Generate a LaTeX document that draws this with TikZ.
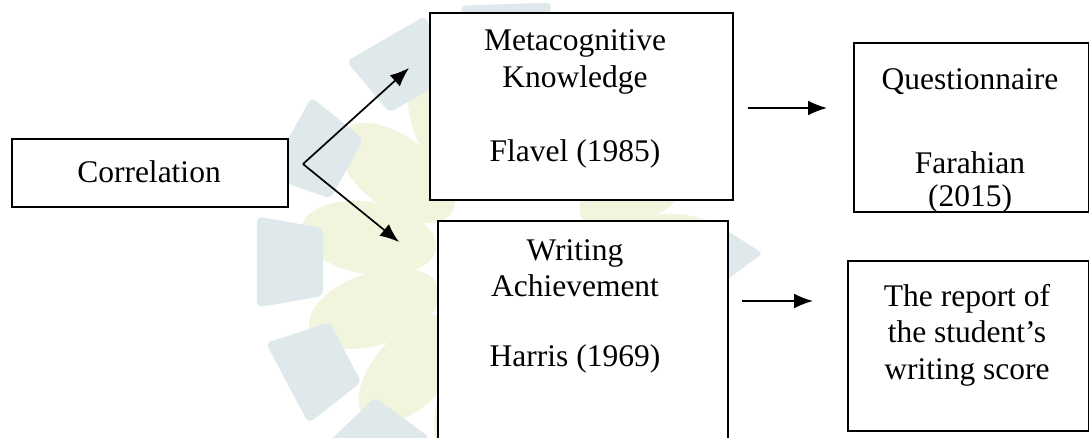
\documentclass[tikz,border=0pt]{standalone}
\usepackage{fontspec}
\setmainfont{Liberation Serif}
\usetikzlibrary{arrows.meta,calc}
\definecolor{wmblue}{RGB}{223,232,235}
\definecolor{wmyel}{RGB}{241,245,222}
\begin{document}
\begin{tikzpicture}[x=1pt,y=-1pt,
  box/.style={draw=black, line width=2.2pt, fill=white, inner sep=0pt, anchor=north west},
  txt/.style={align=center, inner sep=0pt, font=\fontsize{31.5}{36.5}\selectfont},
  arr/.style={line width=1.7pt, -{Latex[length=19pt,width=15pt]}}]
\useasboundingbox (0,0) rectangle (1089,437);
\clip (0,0) rectangle (1089,437);
\fill[white] (0,0) rectangle (1089,437);
% watermark
\begin{scope}[shift={(515,262)}, y=1pt]
  \foreach \a in {4.6,32.3,60,87.7,115.4,143,170.7,198.4,226.1,253.8,281.5,309.2,336.9}
    \fill[wmyel, rotate=\a] (148,0) ellipse [x radius=68, y radius=36];
  \foreach \a in {92,120,151,180,208,234}
    \fill[wmblue, rounded corners=5pt] (\a-10:195) -- (\a-10:262) -- (\a+10:262) -- (\a+10:195) -- cycle;
  \fill[wmblue, rounded corners=4pt] (12:200) -- (2:248) -- (-8:200) -- cycle;
\end{scope}
% boxes
\node[box, minimum width=276, minimum height=68] (corr) at (11,138) {};
\node[box, minimum width=303, minimum height=187] (meta) at (429,12) {};
\node[box, minimum width=290, minimum height=240] (writ) at (437,220) {};
\node[box, minimum width=235, minimum height=169] (quest) at (853,42) {};
\node[box, minimum width=241, minimum height=170] (rep) at (847,260) {};
% texts
\node[txt] (corrt) at (149,172) {Correlation};
\node[txt] (metat) at (575,99) {Metacognitive\\Knowledge\\[38pt]Flavel (1985)};
\node[txt] (writt) at (575,306) {Writing\\Achievement\\[33pt]Harris (1969)};
\node[txt] (questt) at (970,141) {Questionnaire\\[47pt]Farahian\\[-3pt](2015)};
\node[txt] (rept) at (967,335) {The report of\\the student’s\\writing score};
% connectors
\coordinate (fork) at (303,164);
\coordinate (tipA) at (409,68);
\coordinate (tipB) at (399,242);
\coordinate (a1s) at (748,108);
\coordinate (a1e) at (827,108);
\coordinate (a2s) at (742,301);
\coordinate (a2e) at (813,301);
\draw[arr] (fork) -- (tipA);
\draw[arr] (fork) -- (tipB);
\draw[arr] (a1s) -- (a1e);
\draw[arr] (a2s) -- (a2e);
\end{tikzpicture}
\end{document}
